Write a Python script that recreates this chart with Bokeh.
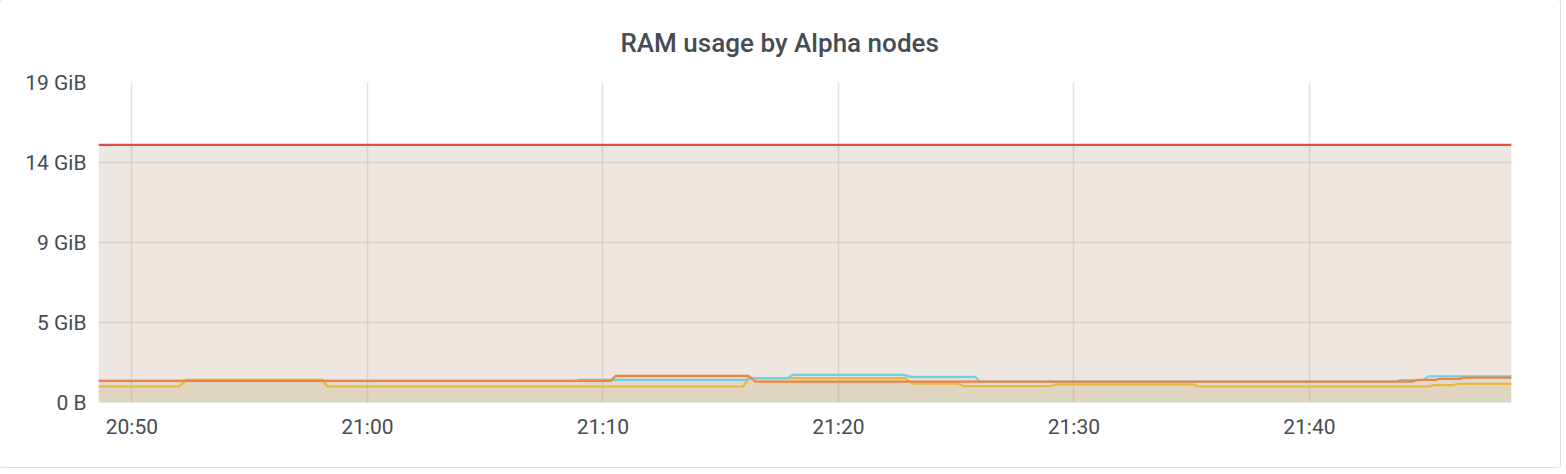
from datetime import datetime
from bokeh.plotting import figure
from bokeh.models import (FixedTicker, SingleIntervalTicker, DatetimeTickFormatter, Range1d)
from bokeh.embed import file_html
from bokeh.resources import INLINE

TITLE = "RAM usage by Alpha nodes"

# y ticks (values in GB = 1e9 bytes, labels as in Grafana's bytes formatter)
y_tick_values = [0, 5, 10, 15, 20]
y_tick_labels = ["0 B", "5 GiB", "9 GiB", "14 GiB", "19 GiB"]

x_start = "20:48:35"
x_end = "21:48:35"

# series (time of day, value in GB)
red_times = ["20:48:35", "21:48:35"]
red_values = [16.1, 16.1]

yellow_times = ["20:48:35", "20:52:00", "20:52:18", "20:58:05", "20:58:18", "21:15:58", "21:16:11",
                "21:22:50", "21:23:10", "21:25:05", "21:25:20", "21:29:00", "21:29:13", "21:35:05",
                "21:35:17", "21:45:03", "21:45:16", "21:46:04", "21:46:17", "21:48:35"]
yellow_values = [1.00, 1.00, 1.41, 1.41, 1.00, 1.00, 1.52,
                 1.52, 1.18, 1.18, 1.02, 1.02, 1.13, 1.13,
                 1.00, 1.00, 1.08, 1.08, 1.17, 1.17]

blue_times = ["20:48:35", "21:08:50", "21:09:00", "21:16:00", "21:16:15", "21:17:50", "21:18:03",
              "21:22:46", "21:23:04", "21:25:49", "21:26:00", "21:43:40", "21:43:52", "21:44:50",
              "21:45:03", "21:48:35"]
blue_values = [1.35, 1.35, 1.41, 1.41, 1.52, 1.52, 1.73,
               1.73, 1.60, 1.60, 1.31, 1.31, 1.40, 1.40,
               1.64, 1.64]

orange_times = ["20:48:35", "21:10:20", "21:10:32", "21:16:11", "21:16:29", "21:44:22", "21:44:35",
                "21:45:22", "21:45:28", "21:46:26", "21:46:30", "21:48:35"]
orange_values = [1.35, 1.35, 1.66, 1.66, 1.31, 1.31, 1.41,
                 1.41, 1.48, 1.48, 1.56, 1.56]


def t(s):
    return datetime.strptime("2020-01-01 " + s, "%Y-%m-%d %H:%M:%S")


p = figure(width=1560, height=467, x_axis_type="datetime",
           output_backend="svg", toolbar_location=None,
           x_range=Range1d(t(x_start), t(x_end)), y_range=Range1d(0, 20),
           min_border_left=98, min_border_right=49, min_border_top=81, min_border_bottom=65)
p.outline_line_color = None
p.background_fill_color = "white"
p.border_fill_color = "white"
p.styles = {"box-shadow": "0 0 0 1px #DCE0E6", "border-radius": "3px"}

p.title.text = TITLE
p.title.align = "left"
p.title.offset = 522
p.title.text_font = "Roboto Medium"
p.title.text_font_style = "normal"
p.title.text_font_size = "26px"
p.title.text_color = "#464C54"
p.title.standoff = 50

# fills
p.varea(x=[t(s) for s in red_times], y1=[0] * len(red_times), y2=red_values,
        fill_color="#A8806A", fill_alpha=0.2)
for times, vals, col in [(yellow_times, yellow_values, "#EAB839"),
                         (blue_times, blue_values, "#6ED0E0"),
                         (orange_times, orange_values, "#EF843C")]:
    p.varea(x=[t(s) for s in times], y1=[0] * len(times), y2=vals,
            fill_color=col, fill_alpha=0.1)

# lines
for times, vals, col in [(yellow_times, yellow_values, "#EAB839"),
                         (blue_times, blue_values, "#6ED0E0"),
                         (orange_times, orange_values, "#EF843C"),
                         (red_times, red_values, "#E24D42")]:
    p.line([t(s) for s in times], vals, line_color=col, line_width=2.2)

# axes
p.yaxis.ticker = FixedTicker(ticks=y_tick_values)
p.yaxis.major_label_overrides = {v: l for v, l in zip(y_tick_values, y_tick_labels)}
p.xaxis.ticker = SingleIntervalTicker(interval=600000)
p.xaxis.formatter = DatetimeTickFormatter(minutes="%H:%M", hours="%H:%M", minsec="%H:%M")

for ax in (p.xaxis[0], p.yaxis[0]):
    ax.major_tick_line_color = None
    ax.minor_tick_line_color = None
    ax.major_label_text_font = "Roboto"
    ax.major_label_text_font_size = "21px"
    ax.major_label_text_color = "#464C54"
p.yaxis.axis_line_color = None
p.yaxis.major_label_standoff = 6
p.xaxis.axis_line_color = "#E4E4E4"
p.xaxis.major_label_standoff = 6

p.xgrid.ticker = SingleIntervalTicker(interval=600000)
p.ygrid.ticker = FixedTicker(ticks=y_tick_values)
p.grid.grid_line_color = "#E3E3E3"
p.grid.grid_line_width = 1.5

open("out.html", "w").write(file_html(p, INLINE))
